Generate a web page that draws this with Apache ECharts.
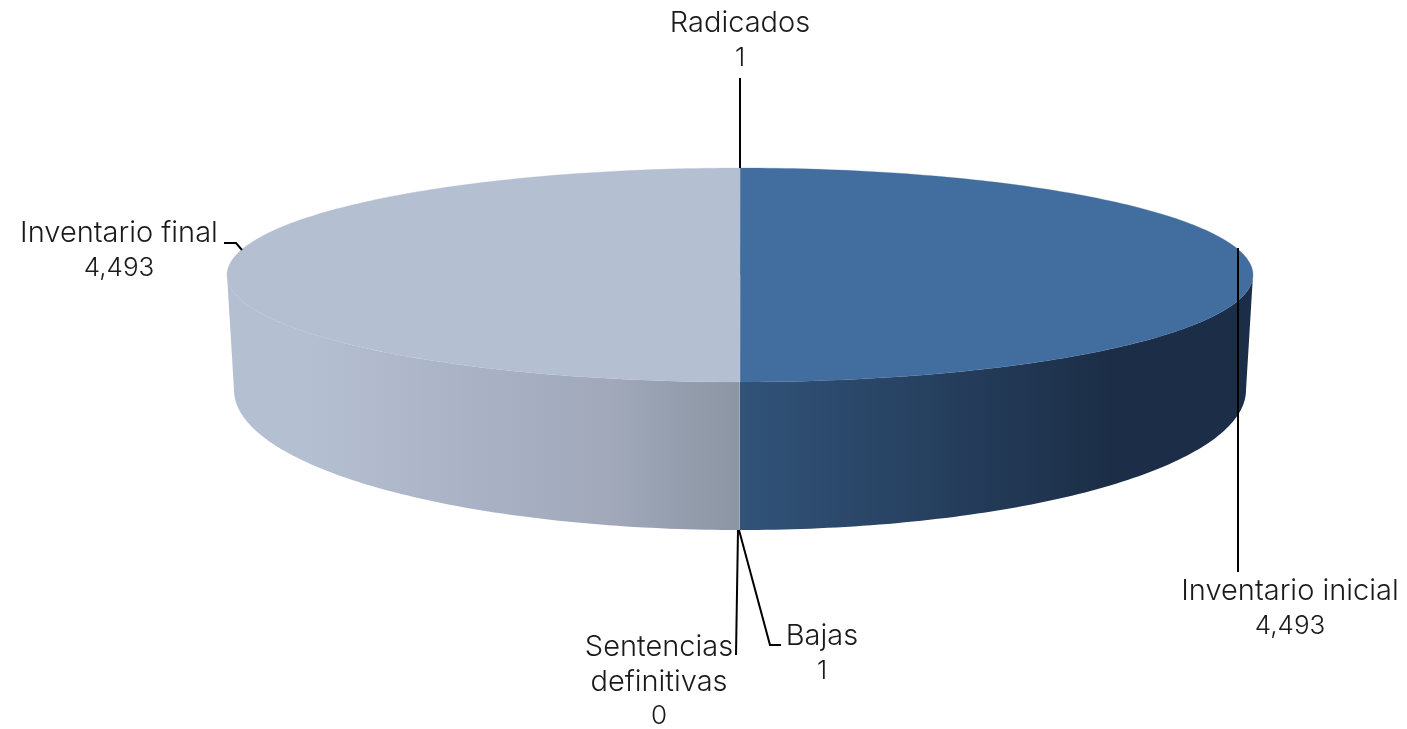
<!DOCTYPE html>
<html>
<head>
<meta charset="utf-8">
<style>html,body{margin:0;padding:0;background:#fff}#c{width:1407px;height:729px}</style>
<script src="https://cdn.jsdelivr.net/npm/echarts@6/dist/echarts.min.js"></script>
</head>
<body>
<div id="c"></div>
<script>
// Data, clockwise from 12 o'clock
const categories = ['Radicados', 'Inventario inicial', 'Bajas', 'Sentencias\ndefinitivas', 'Inventario final'];
const values = [1, 4493, 1, 0, 4493];

// Geometry and styling of the tilted disc
const TOP = {cx: 740, cy: 275, rx: 513, ry: 107};
const BOTTOM = {cx: 740, cy: 390, rx: 506, ry: 140};
const FAMILY = 'Inter, "Open Sans", sans-serif';
const LINE_H = 34.5;
const topColors = ['#426d9f', '#426d9f', '#b5bfd2', '#b5bfd2', '#b5bfd2'];
const wallStops = {
  right: [[0, '#315379'], [0.72, '#1c2e47'], [1, '#1c2e47']],
  left: [[0, '#b5bfd2'], [0.16, '#b5bfd2'], [0.5, '#a9b2c4'], [0.75, '#a0a8ba'], [1, '#8b95a3']]
};
// Label centre and leader path for each slice
const labelLayout = [
  {x: 740, y: 41, leader: [[740, 78], [740, 168]]},
  {x: 1290, y: 609, leader: [[1238, 248], [1238, 572]]},
  {x: 822, y: 654, leader: [[739, 530], [770, 645], [781, 645]]},
  {x: 659, y: 682, leader: [[738, 530], [736, 655]]},
  {x: 119, y: 251, leader: [[224, 243], [236, 243], [242, 250]]}
];

const total = values.reduce((a, b) => a + b, 0);
const starts = [];
values.reduce((acc, v, i) => { starts[i] = acc; return acc + v; }, 0);
const toAngle = v => v / total * 2 * Math.PI;          // clockwise from top
const pt = (e, a) => [e.cx + e.rx * Math.sin(a), e.cy - e.ry * Math.cos(a)];
const STEP = Math.PI / 180;

function arc(e, a0, a1) {
  const pts = [];
  const n = Math.max(1, Math.ceil(Math.abs(a1 - a0) / STEP));
  for (let i = 0; i <= n; i++) pts.push(pt(e, a0 + (a1 - a0) * i / n));
  return pts;
}
function gradient(stops, x0, x1) {
  return {type: 'linear', x: x0, y: 0, x2: x1, y2: 0, global: true,
    colorStops: stops.map(s => ({offset: s[0], color: s[1]}))};
}

function renderItem(params, api) {
  const i = params.dataIndex;
  const a0 = toAngle(starts[i]);
  const a1 = a0 + toAngle(api.value(0));
  const children = [];
  // Front wall: the part of the slice between 90 and 270 degrees
  const w0 = Math.max(a0, Math.PI / 2), w1 = Math.min(a1, 3 * Math.PI / 2);
  if (w1 > w0) {
    const mid = (w0 + w1) / 2;
    const fill = mid < Math.PI
      ? gradient(wallStops.right, TOP.cx, TOP.cx + TOP.rx)
      : gradient(wallStops.left, TOP.cx - TOP.rx, TOP.cx);
    children.push({type: 'polygon', z2: 1,
      shape: {points: arc(TOP, w0, w1).concat(arc(BOTTOM, w1, w0))},
      style: {fill: fill, stroke: null}});
  }
  // Top face
  if (a1 > a0) {
    children.push({type: 'polygon', z2: 2,
      shape: {points: [[TOP.cx, TOP.cy]].concat(arc(TOP, a0, a1))},
      style: {fill: topColors[i], stroke: topColors[i], lineWidth: 0.3}});
  }
  // Leader and label
  const lay = labelLayout[i];
  children.push({type: 'polyline', z2: 5, shape: {points: lay.leader},
    style: {stroke: '#000', lineWidth: 2, fill: null}});
  const nameLines = categories[i].split('\n').map(s => '{n|' + s + '}');
  const valueLine = '{v|' + api.value(0).toLocaleString('en-US') + '}';
  children.push({type: 'text', z2: 6, x: lay.x, y: lay.y,
    style: {text: nameLines.concat(valueLine).join('\n'),
      align: 'center', verticalAlign: 'middle',
      rich: {
        n: {font: '300 29px ' + FAMILY, fill: '#1a1a1a', lineHeight: LINE_H, align: 'center'},
        v: {font: '300 26px ' + FAMILY, fill: '#1a1a1a', lineHeight: LINE_H, align: 'center'}
      }}});
  return {type: 'group', children: children};
}

const chart = echarts.init(document.getElementById('c'), null, {renderer: 'canvas'});
chart.setOption({
  animation: false,
  backgroundColor: '#fff',
  series: [{
    type: 'custom',
    coordinateSystem: 'none',
    silent: true,
    renderItem: renderItem,
    data: values.map(v => [v])
  }]
});
</script>
</body>
</html>
